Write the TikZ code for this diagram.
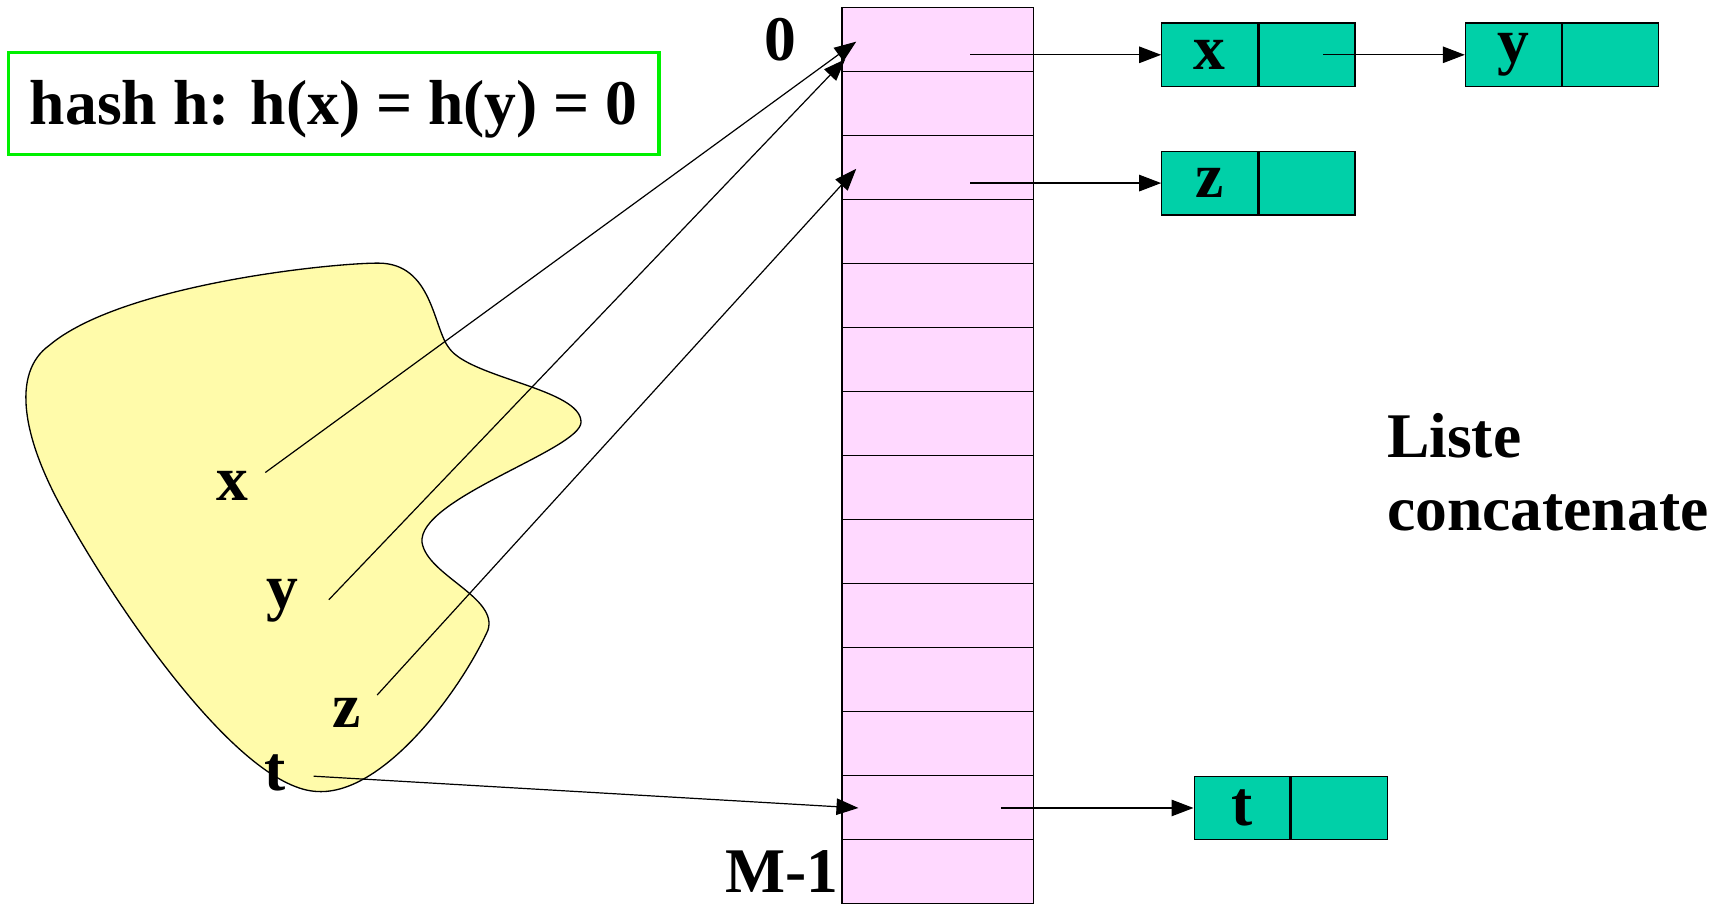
\documentclass[tikz,border=0pt]{standalone}
\usepackage{fontspec}
\setmainfont{Liberation Serif}
\usetikzlibrary{arrows.meta}
\definecolor{pinkc}{RGB}{255,217,255}
\definecolor{tealc}{RGB}{0,208,168}
\definecolor{blobc}{RGB}{255,251,170}
\definecolor{greenc}{RGB}{0,240,0}
\newcommand{\bigtxt}{\fontsize{58}{67}\selectfont\bfseries}
\begin{document}
\begin{tikzpicture}[x=1pt,y=-1pt,
  cell/.style={draw, fill=pinkc, minimum width=175pt, minimum height=58.36pt, inner sep=0pt, line width=1.2pt},
  lcell/.style={draw, fill=tealc, minimum width=87.5pt, minimum height=58pt, inner sep=0pt, line width=1.2pt, font=\bigtxt},
  conn/.style={line width=1.1pt, -{Triangle[length=20pt,width=15pt]}},
  lbl/.style={font=\bigtxt, inner sep=0pt},
]
\useasboundingbox (0,0) rectangle (1568,826);

% blob
\path[draw, fill=blobc, line width=1.2pt] (345,240)
  .. controls (395,240) and (395,300) .. (410,318)
  .. controls (430,345) and (530,355) .. (530,385)
  .. controls (530,410) and (380,455) .. (385,495)
  .. controls (390,525) and (455,545) .. (445,575)
  .. controls (420,630) and (350,725) .. (290,722)
  .. controls (220,720) and (110,560) .. (60,470)
  .. controls (20,400) and (10,340) .. (45,315)
  .. controls (110,260) and (300,240) .. (345,240) -- cycle;

% hash box
\node[draw=greenc, line width=3pt, minimum width=593pt, minimum height=93pt, inner sep=0pt] (hash) at (304.5,94.5) {};
\node[lbl, anchor=base] (hashtxt) at (304.5,114) {hash h: h(x) = h(y) = 0};

% table
\foreach \i in {0,...,13}
  \node[cell] (r\i) at (855.5, {7+58.357*\i+29.18}) {};
\node[lbl] (zero) at (712,36) {0};
\node[lbl, anchor=east] (mone) at (765,795) {M-1};

% lists
\node[lcell] (bx) at (1103.5,50) {x};
\node[lcell, anchor=west] (bxn) at (bx.east) {};
\node[lcell] (by) at (1380.5,50) {y};
\node[lcell, anchor=west] (byn) at (by.east) {};
\node[lcell] (bz) at (1103.5,167) {z};
\node[lcell, anchor=west] (bzn) at (bz.east) {};
\node[lcell] (bt) at (1133,737) {t};
\node[lcell, anchor=west] (btn) at (bt.east) {};

\coordinate (s0) at (885,50);
\coordinate (s2) at (885,167);
\coordinate (s12) at (913,737);
\coordinate (sx) at (1207,50);
\draw[conn] (s0) -- (bx.west);
\draw[conn] (sx) -- (by.west);
\draw[conn] (s2) -- (bz.west);
\draw[conn] (s12) -- (bt.west);

% universe keys
\node[lbl] (kx) at (212,443) {x};
\node[lbl] (ky) at (258,548) {y};
\node[lbl] (kz) at (316,650) {z};
\node[lbl] (kt) at (251,705) {t};
\coordinate (fx) at (242,431);
\coordinate (fy) at (300,547);
\coordinate (fz) at (344,634);
\coordinate (ft) at (286,708);
\coordinate (tx) at (781,38);
\coordinate (ty) at (771,54);
\coordinate (tz) at (781,154);
\coordinate (tt) at (783,737);
\draw[conn] (fx) -- (tx);
\draw[conn] (fy) -- (ty);
\draw[conn] (fz) -- (tz);
\draw[conn] (ft) -- (tt);

% caption
\node[font=\bigtxt, align=left, anchor=base west, inner sep=0pt] (liste) at (1265,484) {Liste\\concatenate};
\end{tikzpicture}
\end{document}
